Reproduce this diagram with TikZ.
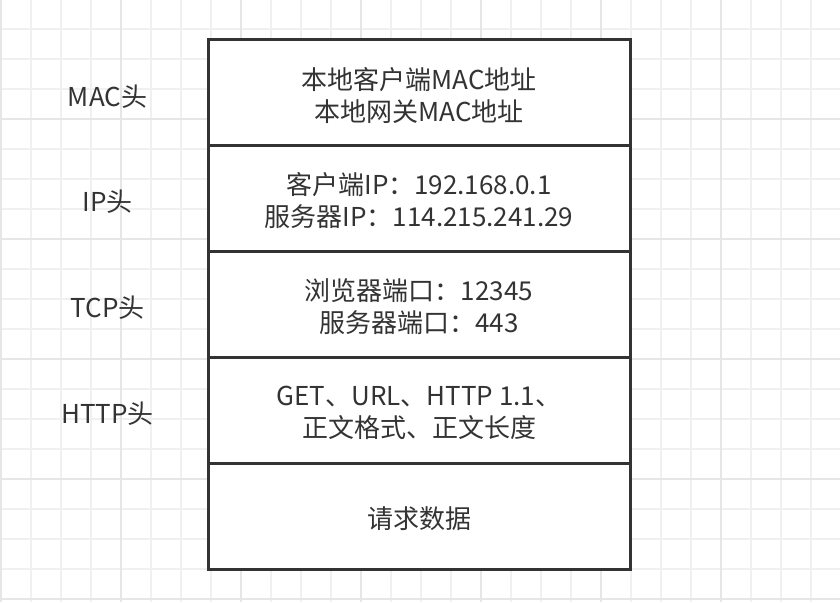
\documentclass[tikz,border=0pt]{standalone}
\usepackage{fontspec}
\setmainfont{Noto Sans CJK SC}
\definecolor{ink}{HTML}{333333}
\definecolor{gridminor}{HTML}{F0F0F0}
\definecolor{gridmajor}{HTML}{E6E6E6}
\begin{document}
\begin{tikzpicture}[x=1pt,y=-1pt,
  minorline/.style={draw=gridminor,line width=1.5pt},
  majorline/.style={draw=gridmajor,line width=1.5pt},
  rowbox/.style={draw=ink,line width=3pt,fill=white,minimum width=422pt,minimum height=105.8pt,inner sep=0pt},
  celltext/.style={text=ink,inner sep=0pt,align=center,font=\fontsize{26}{32}\selectfont},
  sidelabel/.style={text=ink,inner sep=0pt,font=\fontsize{26}{32}\selectfont}]
\useasboundingbox (0,0) rectangle (840,602);
\fill[white] (0,0) rectangle (840,602);
\foreach \x in {1,31,...,811} \draw[minorline] (\x,0) -- (\x,602);
\foreach \y in {29,59,...,599} \draw[minorline] (0,\y) -- (840,\y);
\foreach \x in {1,121,...,721} \draw[majorline] (\x,0) -- (\x,602);
\foreach \y in {119,239,...,599} \draw[majorline] (0,\y) -- (840,\y);
% rows
\node[rowbox] (r1) at (419,92.9) {};
\node[rowbox] (r2) at (419,198.7) {};
\node[rowbox] (r3) at (419,304.5) {};
\node[rowbox] (r4) at (419,410.3) {};
\node[rowbox] (r5) at (419,516.1) {};
% cell texts
\node[celltext] (t1) at (419,96) {本地客户端MAC地址\\本地网关MAC地址};
\node[celltext] (t2) at (419,201) {客户端IP：192.168.0.1\\服务器IP：114.215.241.29};
\node[celltext] (t3) at (419,307) {浏览器端口：12345\\服务器端口：443};
\node[celltext] (t4) at (419,413) {GET、URL、HTTP 1.1、\\正文格式、正文长度};
\node[celltext] (t5) at (419,518.5) {请求数据};
% side labels
\node[sidelabel] (l1) at (107.5,96.5) {MAC头};
\node[sidelabel] (l2) at (107.5,202) {IP头};
\node[sidelabel] (l3) at (107.5,307.5) {TCP头};
\node[sidelabel] (l4) at (107.5,414) {HTTP头};
\end{tikzpicture}
\end{document}
